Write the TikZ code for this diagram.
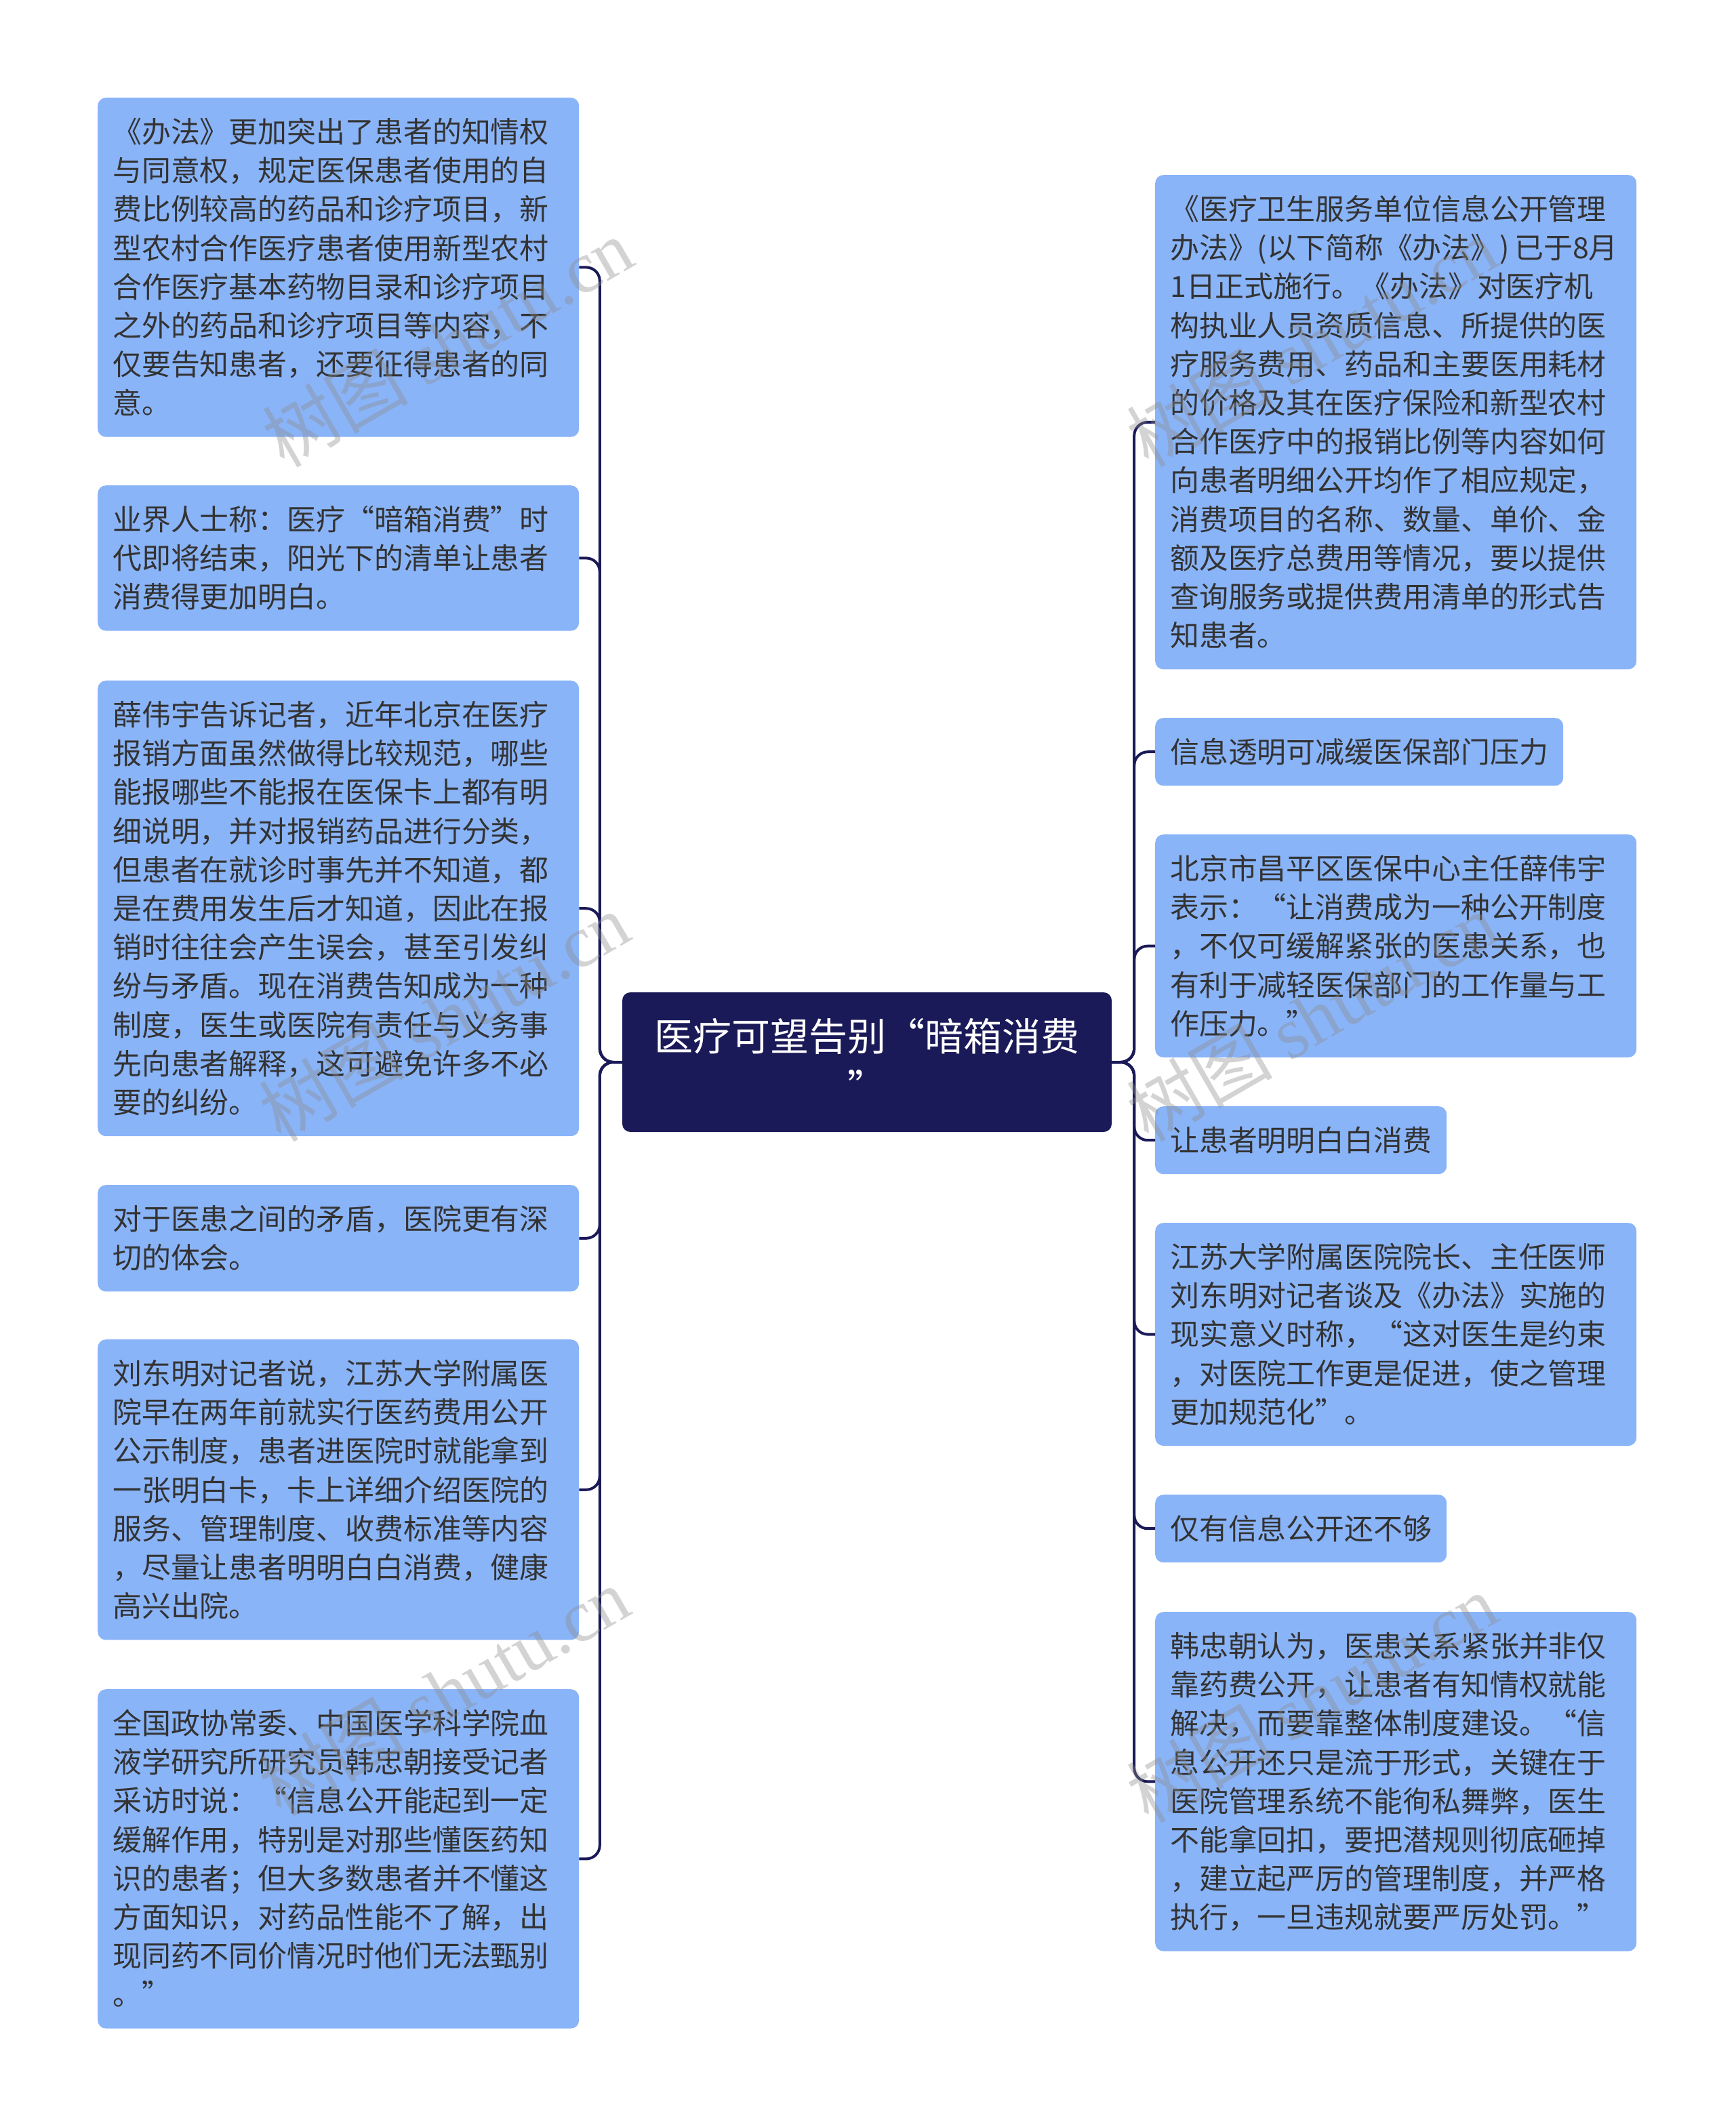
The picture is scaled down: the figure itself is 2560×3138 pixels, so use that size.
\documentclass[tikz,border=0pt]{standalone}
\usepackage{fontspec}
\setmainfont{Noto Sans CJK SC}
\newfontfamily\wmlatin{Liberation Serif}
\definecolor{leafblue}{HTML}{8AB4F8}
\definecolor{navy}{HTML}{1B1A58}
\definecolor{leaftext}{HTML}{333333}
\definecolor{wmgray}{HTML}{8C8C8C}
\newcommand\leaffont{\fontsize{42.9pt}{57.2pt}\selectfont}
\newcommand\rootfont{\fontsize{57pt}{76pt}\selectfont}
\newcommand\wmfont{\fontsize{108pt}{118pt}\selectfont}
\newcommand\lnTop{\rule{0pt}{44.9pt}}
\newcommand\lnBot{\rule[-12.3pt]{0pt}{12.3pt}}
\newcommand\rtTop{\rule{0pt}{59.7pt}}
\newcommand\rtBot{\rule[-16.3pt]{0pt}{16.3pt}}
\newcommand\LQ{\makebox[1em][r]{“}}
\newcommand\RQ{\makebox[1em][l]{”}}
\tikzset{
  leaf/.style={anchor=north west, fill=leafblue, rounded corners=12pt, text=leaftext,
    align=left, inner xsep=22pt, inner ysep=0pt, font=\leaffont, text width=666pt},
  rootbox/.style={fill=navy, rounded corners=12pt, text=white, align=center,
    font=\rootfont, minimum width=722pt, minimum height=206pt, inner sep=0pt},
  conn/.style={draw=navy, line width=4pt, rounded corners=20pt},
  wm/.style={rotate=30, text=wmgray, opacity=0.38, font=\wmfont, inner sep=0pt}
}
\begin{document}
\begin{tikzpicture}[x=1pt,y=-1pt]
\useasboundingbox (0,0) rectangle (2560,3138);
\fill[white] (0,0) rectangle (2560,3138);

\node[rootbox] (root) at (1279,1567) {\rtTop 医疗可望告别\LQ{}暗箱消费\\\RQ\rtBot};

% left side
\node[leaf, minimum height=500.4pt] (L1) at (144,144) {\lnTop《办法》更加突出了患者的知情权\\
与同意权，规定医保患者使用的自\\
费比例较高的药品和诊疗项目，新\\
型农村合作医疗患者使用新型农村\\
合作医疗基本药物目录和诊疗项目\\
之外的药品和诊疗项目等内容，不\\
仅要告知患者，还要征得患者的同\\
意。\lnBot};

\node[leaf, minimum height=214.4pt] (L2) at (144,716) {\lnTop 业界人士称：医疗\LQ{}暗箱消费\RQ{}时\\
代即将结束，阳光下的清单让患者\\
消费得更加明白。\lnBot};

\node[leaf, minimum height=672pt] (L3) at (144,1004) {\lnTop 薛伟宇告诉记者，近年北京在医疗\\
报销方面虽然做得比较规范，哪些\\
能报哪些不能报在医保卡上都有明\\
细说明，并对报销药品进行分类，\\
但患者在就诊时事先并不知道，都\\
是在费用发生后才知道，因此在报\\
销时往往会产生误会，甚至引发纠\\
纷与矛盾。现在消费告知成为一种\\
制度，医生或医院有责任与义务事\\
先向患者解释，这可避免许多不必\\
要的纠纷。\lnBot};

\node[leaf, minimum height=157.2pt] (L4) at (144,1748) {\lnTop 对于医患之间的矛盾，医院更有深\\
切的体会。\lnBot};

\node[leaf, minimum height=443.2pt] (L5) at (144,1976) {\lnTop 刘东明对记者说，江苏大学附属医\\
院早在两年前就实行医药费用公开\\
公示制度，患者进医院时就能拿到\\
一张明白卡，卡上详细介绍医院的\\
服务、管理制度、收费标准等内容\\
，尽量让患者明明白白消费，健康\\
高兴出院。\lnBot};

\node[leaf, minimum height=500.4pt] (L6) at (144,2492) {\lnTop 全国政协常委、中国医学科学院血\\
液学研究所研究员韩忠朝接受记者\\
采访时说：\LQ{}信息公开能起到一定\\
缓解作用，特别是对那些懂医药知\\
识的患者；但大多数患者并不懂这\\
方面知识，对药品性能不了解，出\\
现同药不同价情况时他们无法甄别\\
。\RQ\lnBot};

% right side
\node[leaf, minimum height=729.2pt] (R1) at (1704,258) {\lnTop《医疗卫生服务单位信息公开管理\\
\mbox{办法》(以下简称《办法》)\,已于8月}\\
1日正式施行。《办法》对医疗机\\
构执业人员资质信息、所提供的医\\
疗服务费用、药品和主要医用耗材\\
的价格及其在医疗保险和新型农村\\
合作医疗中的报销比例等内容如何\\
向患者明细公开均作了相应规定，\\
消费项目的名称、数量、单价、金\\
额及医疗总费用等情况，要以提供\\
查询服务或提供费用清单的形式告\\
知患者。\lnBot};

\node[leaf, text width=558pt, minimum height=100pt] (R2) at (1704,1059) {\lnTop 信息透明可减缓医保部门压力\lnBot};

\node[leaf, minimum height=328.8pt] (R3) at (1704,1231) {\lnTop 北京市昌平区医保中心主任薛伟宇\\
表示：\LQ{}让消费成为一种公开制度\\
，不仅可缓解紧张的医患关系，也\\
有利于减轻医保部门的工作量与工\\
作压力。\RQ\lnBot};

\node[leaf, text width=386pt, minimum height=100pt] (R4) at (1704,1632) {\lnTop 让患者明明白白消费\lnBot};

\node[leaf, minimum height=328.8pt] (R5) at (1704,1804) {\lnTop 江苏大学附属医院院长、主任医师\\
刘东明对记者谈及《办法》实施的\\
现实意义时称，\LQ{}这对医生是约束\\
，对医院工作更是促进，使之管理\\
更加规范化\RQ{}。\lnBot};

\node[leaf, text width=386pt, minimum height=100pt] (R6) at (1704,2205) {\lnTop 仅有信息公开还不够\lnBot};

\node[leaf, minimum height=500.4pt] (R7) at (1704,2378) {\lnTop 韩忠朝认为，医患关系紧张并非仅\\
靠药费公开，让患者有知情权就能\\
解决，而要靠整体制度建设。\LQ{}信\\
息公开还只是流于形式，关键在于\\
医院管理系统不能徇私舞弊，医生\\
不能拿回扣，要把潜规则彻底砸掉\\
，建立起严厉的管理制度，并严格\\
执行，一旦违规就要严厉处罚。\RQ\lnBot};

% connectors
\foreach \n in {L1,L2,L3,L4,L5,L6}
  \draw[conn] (root.west) -- ++(-33,0) |- (\n.east);
\foreach \n in {R1,R2,R3,R4,R5,R6,R7}
  \draw[conn] (root.east) -- ++(33,0) |- (\n.west);

% watermarks
\node[wm] (wm1) at (660,505) {树图 {\wmlatin shutu.cn}};
\node[wm] (wm2) at (655,1500) {树图 {\wmlatin shutu.cn}};
\node[wm] (wm3) at (655,2495) {树图 {\wmlatin shutu.cn}};
\node[wm] (wm4) at (1935,505) {树图 {\wmlatin shutu.cn}};
\node[wm] (wm5) at (1935,1500) {树图 {\wmlatin shutu.cn}};
\node[wm] (wm6) at (1935,2505) {树图 {\wmlatin shutu.cn}};
\end{tikzpicture}
\end{document}
